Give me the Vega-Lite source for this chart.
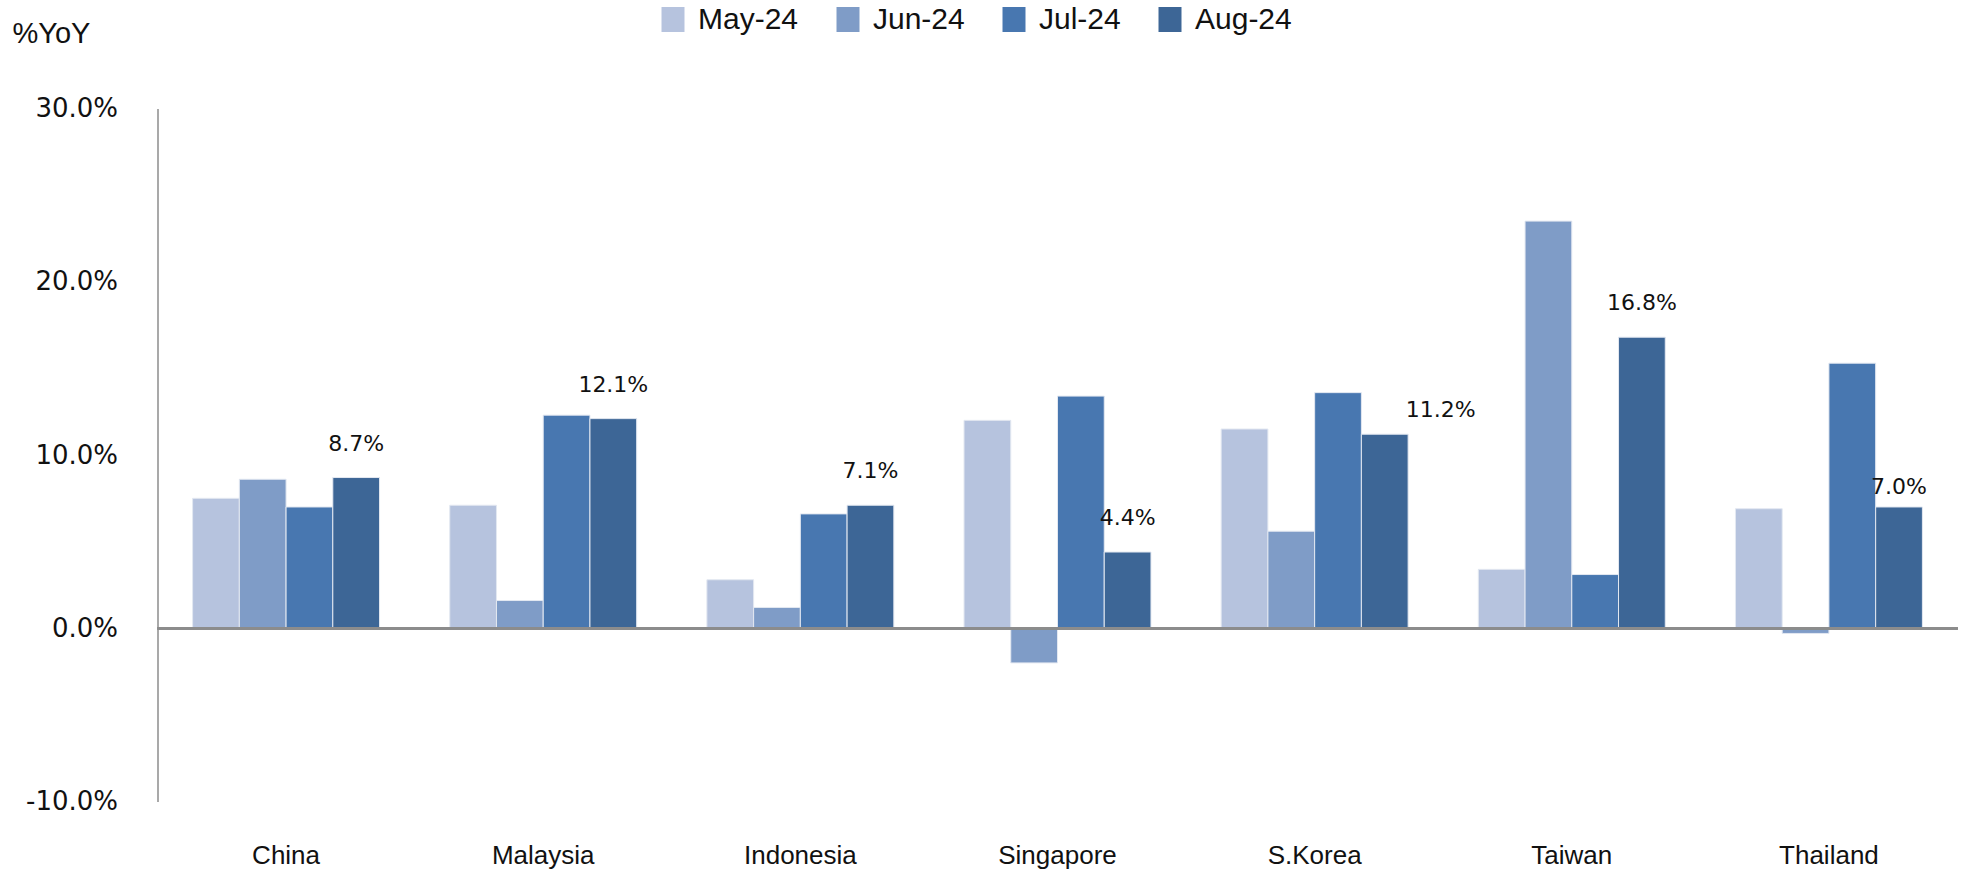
{
  "$schema": "https://vega.github.io/schema/vega-lite/v6.json",
  "autosize": {"type": "none"},
  "width": 1800,
  "height": 693,
  "padding": {"left": 157.5, "top": 108.5, "right": 3.5, "bottom": 67.5},
  "background": "white",
  "config": {
    "view": {"stroke": null},
    "font": "Liberation Sans"
  },
  "data": {
    "values": [
      {"Country": "China", "Month": "May-24", "Value": 0.075},
      {"Country": "China", "Month": "Jun-24", "Value": 0.086},
      {"Country": "China", "Month": "Jul-24", "Value": 0.070},
      {"Country": "China", "Month": "Aug-24", "Value": 0.087},
      {"Country": "Malaysia", "Month": "May-24", "Value": 0.071},
      {"Country": "Malaysia", "Month": "Jun-24", "Value": 0.016},
      {"Country": "Malaysia", "Month": "Jul-24", "Value": 0.123},
      {"Country": "Malaysia", "Month": "Aug-24", "Value": 0.121},
      {"Country": "Indonesia", "Month": "May-24", "Value": 0.028},
      {"Country": "Indonesia", "Month": "Jun-24", "Value": 0.012},
      {"Country": "Indonesia", "Month": "Jul-24", "Value": 0.066},
      {"Country": "Indonesia", "Month": "Aug-24", "Value": 0.071},
      {"Country": "Singapore", "Month": "May-24", "Value": 0.120},
      {"Country": "Singapore", "Month": "Jun-24", "Value": -0.020},
      {"Country": "Singapore", "Month": "Jul-24", "Value": 0.134},
      {"Country": "Singapore", "Month": "Aug-24", "Value": 0.044},
      {"Country": "S.Korea", "Month": "May-24", "Value": 0.115},
      {"Country": "S.Korea", "Month": "Jun-24", "Value": 0.056},
      {"Country": "S.Korea", "Month": "Jul-24", "Value": 0.136},
      {"Country": "S.Korea", "Month": "Aug-24", "Value": 0.112},
      {"Country": "Taiwan", "Month": "May-24", "Value": 0.034},
      {"Country": "Taiwan", "Month": "Jun-24", "Value": 0.235},
      {"Country": "Taiwan", "Month": "Jul-24", "Value": 0.031},
      {"Country": "Taiwan", "Month": "Aug-24", "Value": 0.168},
      {"Country": "Thailand", "Month": "May-24", "Value": 0.069},
      {"Country": "Thailand", "Month": "Jun-24", "Value": -0.003},
      {"Country": "Thailand", "Month": "Jul-24", "Value": 0.153},
      {"Country": "Thailand", "Month": "Aug-24", "Value": 0.070}
    ]
  },
  "encoding": {
    "x": {
      "field": "Country",
      "type": "nominal",
      "sort": ["China", "Malaysia", "Indonesia", "Singapore", "S.Korea", "Taiwan", "Thailand"],
      "scale": {"paddingInner": 0.273, "paddingOuter": 0.1365},
      "axis": {
        "title": null,
        "domain": false,
        "ticks": false,
        "labelAngle": 0,
        "labelFont": "Liberation Sans",
        "labelFontSize": 26,
        "labelColor": "#111111",
        "labelPadding": 41
      }
    },
    "xOffset": {
      "field": "Month",
      "type": "nominal",
      "sort": ["May-24", "Jun-24", "Jul-24", "Aug-24"],
      "scale": {"domain": ["May-24", "Jun-24", "Jul-24", "Aug-24"], "paddingInner": 0, "paddingOuter": 0}
    },
    "y": {
      "field": "Value",
      "type": "quantitative",
      "scale": {"domain": [-0.1, 0.3], "nice": false, "zero": false},
      "axis": {
        "title": "%YoY",
        "titleAngle": 0,
        "titleAlign": "left",
        "titleBaseline": "middle",
        "titleX": -145.5,
        "titleY": -75.5,
        "titleFont": "Liberation Sans",
        "titleFontSize": 29,
        "titleFontWeight": "normal",
        "titleColor": "#111111",
        "values": [-0.1, 0, 0.1, 0.2, 0.3],
        "format": ".1%",
        "labelExpr": "replace(datum.label, '\u2212', '-')",
        "grid": false,
        "ticks": false,
        "domainColor": "#8c8c8c",
        "domainWidth": 1.5,
        "labelFont": "DejaVu Sans",
        "labelFontSize": 26,
        "labelColor": "#111111",
        "labelPadding": 40
      }
    }
  },
  "layer": [
    {
      "mark": {"type": "bar", "stroke": "#e3e8f1", "strokeWidth": 1},
      "encoding": {
        "color": {
          "field": "Month",
          "type": "nominal",
          "sort": ["May-24", "Jun-24", "Jul-24", "Aug-24"],
          "scale": {
            "domain": ["May-24", "Jun-24", "Jul-24", "Aug-24"],
            "range": ["#b6c3de", "#7f9cc7", "#4877b0", "#3d6696"]
          },
          "legend": {
            "title": null,
            "orient": "none",
            "direction": "horizontal",
            "legendX": 500.5,
            "legendY": -104,
            "padding": 0,
            "symbolType": "M-0.92,-1H0.92V1H-0.92Z",
            "symbolSize": 625,
            "symbolStrokeWidth": 0,
            "symbolOpacity": 1,
            "labelFont": "Liberation Sans",
            "labelFontSize": 30,
            "labelColor": "#111111",
            "labelOffset": 10,
            "columnPadding": 34
          }
        }
      }
    },
    {
      "mark": {"type": "rule", "color": "#8c8c8c", "strokeWidth": 2},
      "encoding": {
        "y": {"datum": 0},
        "x": null,
        "xOffset": null
      }
    },
    {
      "transform": [
        {"filter": "datum.Month === 'Aug-24' && datum.Country !== 'S.Korea' && datum.Country !== 'Thailand'"}
      ],
      "mark": {"type": "text", "font": "DejaVu Sans", "fontSize": 22, "color": "#111111", "baseline": "middle", "dy": -34},
      "encoding": {"text": {"field": "Value", "type": "quantitative", "format": ".1%"}}
    },
    {
      "transform": [
        {"filter": "datum.Month === 'Aug-24' && datum.Country === 'S.Korea'"}
      ],
      "mark": {"type": "text", "font": "DejaVu Sans", "fontSize": 22, "color": "#111111", "baseline": "middle", "dx": 56, "dy": -24},
      "encoding": {"text": {"field": "Value", "type": "quantitative", "format": ".1%"}}
    },
    {
      "transform": [
        {"filter": "datum.Month === 'Aug-24' && datum.Country === 'Thailand'"}
      ],
      "mark": {"type": "text", "font": "DejaVu Sans", "fontSize": 22, "color": "#111111", "baseline": "middle", "dy": -20},
      "encoding": {"text": {"field": "Value", "type": "quantitative", "format": ".1%"}}
    }
  ]
}
